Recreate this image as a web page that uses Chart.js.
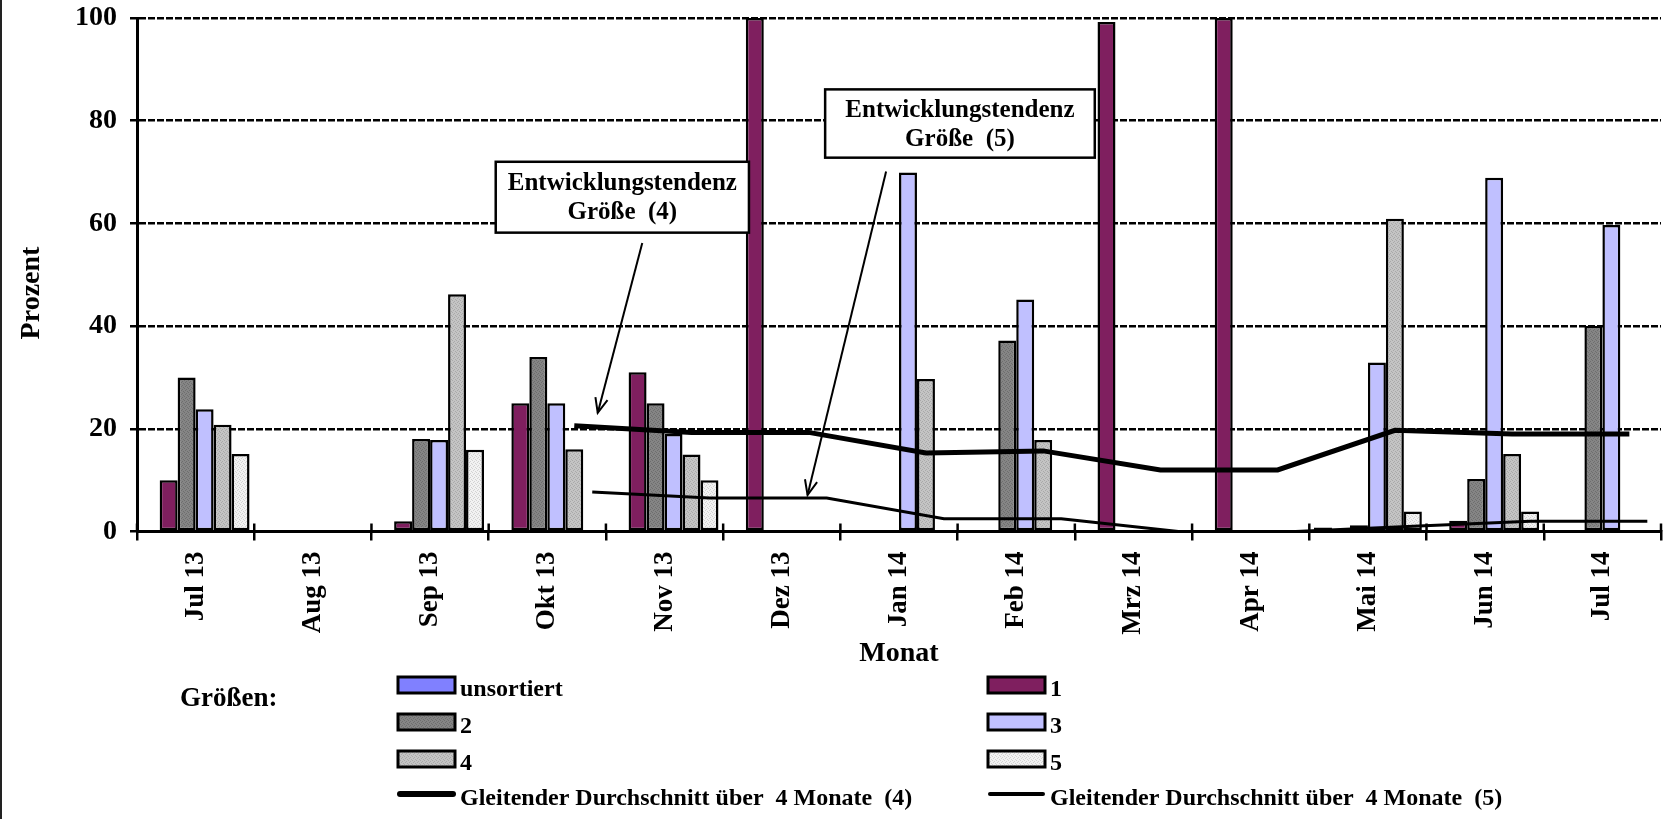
<!DOCTYPE html>
<html>
<head>
<meta charset="utf-8">
<script src="https://cdn.jsdelivr.net/npm/chart.js@4.4.0/dist/chart.umd.min.js"></script>
<style>
html, body { margin: 0; padding: 0; background: #fff; }
#wrap { position: relative; width: 1673px; height: 819px; }
</style>
</head>
<body>
<div id="wrap"><canvas id="myChart"></canvas></div>
<script>
// Monate (Kategorien)
var months = ['Jul 13', 'Aug 13', 'Sep 13', 'Okt 13', 'Nov 13', 'Dez 13', 'Jan 14', 'Feb 14', 'Mrz 14', 'Apr 14', 'Mai 14', 'Jun 14', 'Jul 14'];

// Anteile je Größe in Prozent
var unsortiert = [0, 0, 0, 0, 0, 0, 0, 0, 0, 0, 0.8, 0, 0];
var groesse1   = [10, 0, 2, 25, 31, 100, 0, 0, 99.2, 100, 0, 2.1, 0];
var groesse2   = [30, 0, 18, 34, 25, 0, 0, 37.2, 0, 0, 1.2, 10.2, 40];
var groesse3   = [23.8, 0, 17.8, 25, 19, 0, 69.9, 45.2, 0, 0, 32.9, 68.9, 59.7];
var groesse4   = [20.8, 0, 46.2, 16, 15, 0, 29.7, 17.8, 0, 0, 60.9, 15.1, 0];
var groesse5   = [15.1, 0, 15.9, 0, 10, 0, 0, 0, 0, 0, 3.9, 3.9, 0];

// Gleitender Durchschnitt über 4 Monate
var gleitend4 = [null, null, null, 20.6, 19.3, 19.3, 15.3, 15.7, 12, 12, 19.7, 19, 19];
var gleitend5 = [null, null, null, 7.7, 6.5, 6.5, 2.5, 2.5, 0, 0, 1, 2, 2];

var yTicks = [0, 20, 40, 60, 80, 100];

var FONT = "'Liberation Serif', 'Times New Roman', serif";
var CAT_PCT = 0.92;

function makePattern(base, dot) {
    var c = document.createElement('canvas');
    c.width = 4;
    c.height = 4;
    var g = c.getContext('2d');
    g.fillStyle = base;
    g.fillRect(0, 0, 4, 4);
    g.fillStyle = dot;
    g.fillRect(0, 0, 1, 1);
    g.fillRect(2, 1, 1, 1);
    g.fillRect(1, 2, 1, 1);
    g.fillRect(3, 3, 1, 1);
    return g.createPattern(c, 'repeat');
}

// Versatz eines Balkens (Slot k von 6) zur Kategoriemitte, in Kategorie-Einheiten
function slotShift(k) {
    return -CAT_PCT / 2 + (k + 0.5) * CAT_PCT / 6;
}

function barSet(label, values, fill) {
    return {
        type: 'bar',
        label: label,
        data: values,
        backgroundColor: fill,
        borderColor: '#000',
        borderWidth: 2.5,
        borderSkipped: false,
        categoryPercentage: CAT_PCT,
        barPercentage: 1.0,
        order: 1
    };
}

// Trendlinien sitzen (wie in Excel) über dem Balken ihrer Größe
function lineSet(label, values, width, slot) {
    return {
        type: 'line',
        label: label,
        data: values,
        borderColor: '#000',
        borderWidth: width,
        pointRadius: 0,
        fill: false,
        tension: 0,
        order: 0,
        slot: slot
    };
}

var datasets = [
    barSet('unsortiert', unsortiert, '#8080ff'),
    barSet('1', groesse1, '#7f1f5f'),
    barSet('2', groesse2, makePattern('#858585', '#6e6e6e')),
    barSet('3', groesse3, '#c0c0ff'),
    barSet('4', groesse4, makePattern('#c4c4c4', '#a9a9a9')),
    barSet('5', groesse5, makePattern('#f2f2f2', '#d2d2d2')),
    lineSet('Gleitender Durchschnitt über  4 Monate  (4)', gleitend4, 5, 4),
    lineSet('Gleitender Durchschnitt über  4 Monate  (5)', gleitend5, 3, 5)
];

// Hinweisboxen (in Achsen-Einheiten: Kategorie-Index / Prozent)
var notes = [
    { lines: ['Entwicklungstendenz', 'Größe  (4)'], x0: 2.56, x1: 4.72, y0: 72.0, y1: 58.2, ax: 3.81, ay: 56.2, bx: 3.43, by: 23.1 },
    { lines: ['Entwicklungstendenz', 'Größe  (5)'], x0: 5.37, x1: 7.67, y0: 86.1, y1: 72.8, ax: 5.89, ay: 70.1, bx: 5.22, by: 7.1 }
];

function catWidth(chart) {
    var xs = chart.scales.x;
    return xs.getPixelForValue(1) - xs.getPixelForValue(0);
}

var decorPlugin = {
    id: 'decor',
    beforeDatasetDraw: function (chart, args) {
        var ds = chart.data.datasets[args.index];
        if (ds.type === 'line') {
            chart.ctx.save();
            chart.ctx.translate(slotShift(ds.slot) * catWidth(chart), 0);
        }
    },
    afterDatasetDraw: function (chart, args) {
        var ds = chart.data.datasets[args.index];
        if (ds.type === 'line') chart.ctx.restore();
    },
    afterDraw: function (chart) {
        var ctx = chart.ctx;
        var xs = chart.scales.x;
        var ys = chart.scales.y;
        ctx.save();

        // linker Rahmen
        ctx.fillStyle = '#222';
        ctx.fillRect(0, 0, 2, chart.height);

        // y-Achsentitel
        ctx.save();
        ctx.translate(32, 293);
        ctx.rotate(-Math.PI / 2);
        ctx.fillStyle = '#000';
        ctx.font = 'bold 28px ' + FONT;
        ctx.textAlign = 'center';
        ctx.textBaseline = 'middle';
        ctx.fillText('Prozent', 0, 0);
        ctx.restore();

        // Teilstriche oberhalb der x-Achse
        ctx.strokeStyle = '#000';
        ctx.lineWidth = 2.5;
        for (var i = 0; i <= months.length; i++) {
            var px = xs.getPixelForValue(i - 0.5);
            ctx.beginPath();
            ctx.moveTo(px, ys.bottom - 8);
            ctx.lineTo(px, ys.bottom);
            ctx.stroke();
        }

        // Hinweisboxen mit Pfeilen
        notes.forEach(function (n) {
            var left = xs.getPixelForValue(n.x0), right = xs.getPixelForValue(n.x1);
            var top = ys.getPixelForValue(n.y0), bottom = ys.getPixelForValue(n.y1);
            ctx.fillStyle = '#fff';
            ctx.fillRect(left, top, right - left, bottom - top);
            ctx.strokeStyle = '#000';
            ctx.lineWidth = 2.5;
            ctx.strokeRect(left, top, right - left, bottom - top);
            ctx.fillStyle = '#000';
            ctx.font = 'bold 25px ' + FONT;
            ctx.textAlign = 'center';
            ctx.textBaseline = 'alphabetic';
            var cx = (left + right) / 2;
            ctx.fillText(n.lines[0], cx, top + 28);
            ctx.fillText(n.lines[1], cx, top + 57);

            var ax = xs.getPixelForValue(n.ax), ay = ys.getPixelForValue(n.ay);
            var bx = xs.getPixelForValue(n.bx), by = ys.getPixelForValue(n.by);
            ctx.lineWidth = 2;
            ctx.beginPath();
            ctx.moveTo(ax, ay);
            ctx.lineTo(bx, by);
            ctx.stroke();
            var ang = Math.atan2(by - ay, bx - ax);
            var len = 16;
            ctx.beginPath();
            ctx.moveTo(bx - len * Math.cos(ang - 0.4), by - len * Math.sin(ang - 0.4));
            ctx.lineTo(bx, by);
            ctx.lineTo(bx - len * Math.cos(ang + 0.4), by - len * Math.sin(ang + 0.4));
            ctx.stroke();
        });

        // Legende
        ctx.fillStyle = '#000';
        ctx.textAlign = 'left';
        ctx.textBaseline = 'middle';
        ctx.font = 'bold 27px ' + FONT;
        ctx.fillText('Größen:', 180, 699);

        var colX = [398, 988];
        var rowY = [688, 725, 762, 797];
        ctx.font = 'bold 24px ' + FONT;
        chart.data.datasets.forEach(function (ds, idx) {
            var col = idx % 2;
            var row = Math.floor(idx / 2);
            var sx = colX[col];
            var sy = rowY[row];
            if (ds.type === 'bar') {
                ctx.fillStyle = ds.backgroundColor;
                ctx.fillRect(sx, sy - 11, 57, 16);
                ctx.strokeStyle = '#000';
                ctx.lineWidth = 3;
                ctx.strokeRect(sx, sy - 11, 57, 16);
            } else {
                ctx.strokeStyle = '#000';
                ctx.lineWidth = ds.borderWidth + 1;
                ctx.lineCap = 'round';
                ctx.beginPath();
                ctx.moveTo(sx + 2, sy - 3);
                ctx.lineTo(sx + 55, sy - 3);
                ctx.stroke();
                ctx.lineCap = 'butt';
            }
            ctx.fillStyle = '#000';
            ctx.fillText(ds.label, sx + 62, sy + 2);
        });
        ctx.restore();
    }
};

var ctx = document.getElementById('myChart').getContext('2d');
var chart = new Chart(ctx, {
    type: 'bar',
    data: {
        labels: months,
        datasets: datasets
    },
    options: {
        responsive: true,
        maintainAspectRatio: false,
        animation: false,
        layout: {
            padding: { left: 0, right: 12, top: 18, bottom: 147.5 }
        },
        scales: {
            x: {
                type: 'category',
                offset: true,
                grid: {
                    offset: true,
                    drawOnChartArea: false,
                    color: '#000',
                    lineWidth: 2.5,
                    tickLength: 9
                },
                border: { color: '#000', width: 3 },
                ticks: {
                    autoSkip: false,
                    minRotation: 90,
                    maxRotation: 90,
                    padding: 11,
                    color: '#000',
                    font: { family: FONT, size: 27, weight: 'bold' }
                },
                title: {
                    display: true,
                    text: 'Monat',
                    color: '#000',
                    font: { family: FONT, size: 28, weight: 'bold' },
                    padding: { top: 0, bottom: 1 }
                },
                afterFit: function (scale) {
                    scale.height = 140;
                }
            },
            y: {
                min: yTicks[0],
                max: yTicks[yTicks.length - 1],
                afterBuildTicks: function (scale) {
                    scale.ticks = yTicks.map(function (v) { return { value: v }; });
                },
                grid: {
                    color: '#000',
                    lineWidth: 2.5,
                    tickLength: 7
                },
                border: { color: '#000', width: 3, dash: [7, 2] },
                ticks: {
                    padding: 13,
                    color: '#000',
                    font: { family: FONT, size: 28, weight: 'bold' }
                },
                title: { display: false },
                afterFit: function (scale) {
                    scale.width = 137;
                    scale.paddingTop = 0;
                    scale.paddingBottom = 0;
                }
            }
        },
        plugins: {
            legend: { display: false },
            tooltip: { enabled: false },
            title: { display: false }
        }
    },
    plugins: [decorPlugin]
});
</script>
</body>
</html>
